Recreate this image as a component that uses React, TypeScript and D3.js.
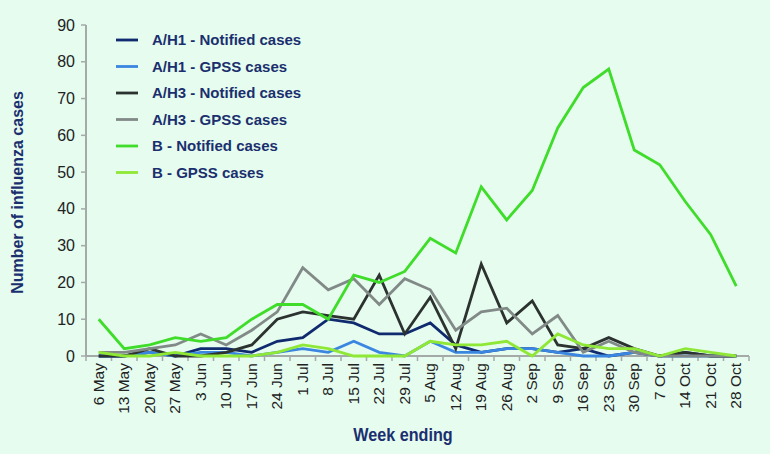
import React from "react";
import * as d3 from "d3";

const weeks = ["6 May","13 May","20 May","27 May","3 Jun","10 Jun","17 Jun","24 Jun","1 Jul","8 Jul","15 Jul","22 Jul","29 Jul","5 Aug","12 Aug","19 Aug","26 Aug","2 Sep","9 Sep","16 Sep","23 Sep","30 Sep","7 Oct","14 Oct","21 Oct","28 Oct"];

const h1Notified = [0,0,1,0,2,2,1,4,5,10,9,6,6,9,3,1,2,2,1,2,0,1,0,1,0,0];
const h1Gpss =     [0,0,1,0,1,1,0,1,2,1,4,1,0,4,1,1,2,2,1,0,0,1,0,0,0,0];
const h3Notified = [0,0,2,0,0,1,3,10,12,11,10,22,6,16,2,25,9,15,3,2,5,2,0,1,0,0];
const h3Gpss =     [1,1,2,3,6,3,7,12,24,18,21,14,21,18,7,12,13,6,11,1,4,1,0,0,0,0];
const bNotified =  [10,2,3,5,4,5,10,14,14,10,22,20,23,32,28,46,37,45,62,73,78,56,52,42,33,19];
const bGpss =      [1,0,0,1,0,0,0,1,3,2,0,0,0,4,3,3,4,0,6,3,2,2,0,2,1,0];

const seriesNames = ["A/H1 - Notified cases","A/H1 - GPSS cases","A/H3 - Notified cases","A/H3 - GPSS cases","B - Notified cases","B - GPSS cases"];
const seriesValues = [h1Notified, h1Gpss, h3Notified, h3Gpss, bNotified, bGpss];
const seriesColors = ["#0f2a6e","#3a86e0","#2c3230","#828a88","#3fdc2a","#8ee835"];
const yTicks = [0,10,20,30,40,50,60,70,80,90];

export default function App() {
  const W = 770, H = 454;
  const left = 86, right = 749, top = 25, bottom = 356;
  const x = d3.scaleBand<string>().domain(weeks).range([left, right]);
  const y = d3.scaleLinear().domain([0, 90]).range([bottom, top]);
  const line = d3.line<number>()
    .x((_, i) => (x(weeks[i]) as number) + x.bandwidth() / 2)
    .y((d) => y(d));
  const navy = "#1b2f6e";
  const axisColor = "#a3aaa8";
  const font = "Liberation Sans, Arial, sans-serif";
  return (
    <svg width={W} height={H} style={{ position: "absolute", left: 0, top: 0 }}>
      <rect x={0} y={0} width={W} height={H} fill="#e5fcef" />
      <line x1={left} x2={left} y1={top} y2={bottom} stroke={axisColor} strokeWidth={2} />
      {yTicks.map((t) => (
        <g key={t}>
          <line x1={left - 5} x2={left} y1={y(t)} y2={y(t)} stroke={axisColor} strokeWidth={1.5} />
          <text x={left - 11} y={y(t)} dy="0.35em" textAnchor="end" fontFamily={font} fontSize={16} fill="#222">{t}</text>
        </g>
      ))}
      <line x1={left} x2={right} y1={bottom} y2={bottom} stroke={axisColor} strokeWidth={2} />
      {weeks.map((w, i) => (
        <line key={"t" + i} x1={(x(w) as number) + x.bandwidth()} x2={(x(w) as number) + x.bandwidth()} y1={bottom} y2={bottom + 5} stroke={axisColor} strokeWidth={1.5} />
      ))}
      <line x1={left} x2={left} y1={bottom} y2={bottom + 5} stroke={axisColor} strokeWidth={1.5} />
      {weeks.map((w, i) => {
        const cx = (x(w) as number) + x.bandwidth() / 2;
        return (
          <text key={"l" + i} transform={`translate(${cx + 5},${bottom + 7}) rotate(-90)`} textAnchor="end" fontFamily={font} fontSize={15.5} fill="#222">{w}</text>
        );
      })}
      {seriesValues.map((vals, k) => (
        <path key={"s" + k} d={line(vals) as string} fill="none" stroke={seriesColors[k]} strokeWidth={2.8} strokeLinejoin="miter" />
      ))}
      {seriesNames.map((n, k) => {
        const ly = 40 + k * 26.5;
        return (
          <g key={"g" + k}>
            <line x1={116} x2={138} y1={ly} y2={ly} stroke={seriesColors[k]} strokeWidth={2.8} />
            <text x={152} y={ly} dy="0.35em" fontFamily={font} fontWeight="bold" fontSize={15} fill={navy}>{n}</text>
          </g>
        );
      })}
      <text transform={`translate(23,${(top + bottom) / 2 + 2}) rotate(-90)`} textAnchor="middle" fontFamily={font} fontWeight="bold" fontSize={16} fill={navy}>Number of influenza cases</text>
      <text transform="translate(403,441) scale(0.85,1)" textAnchor="middle" fontFamily={font} fontWeight="bold" fontSize={19} fill={navy}>Week ending</text>
    </svg>
  );
}
